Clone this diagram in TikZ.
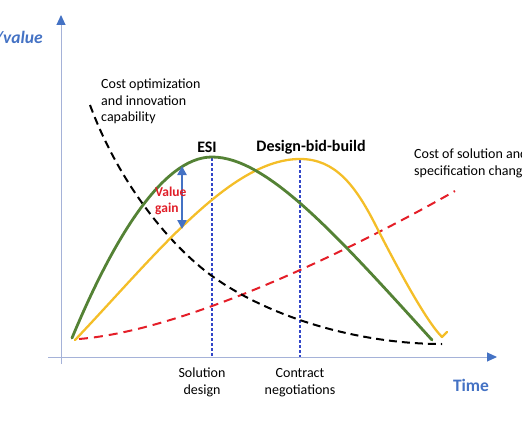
\documentclass[tikz,border=0pt]{standalone}
\usepackage{fontspec}
\setmainfont{Carlito}
\usetikzlibrary{arrows.meta}
\definecolor{grn}{RGB}{84,130,53}
\definecolor{ylw}{RGB}{244,190,40}
\definecolor{rdd}{RGB}{228,30,40}
\definecolor{vblue}{RGB}{50,70,200}
\definecolor{axcol}{RGB}{165,178,216}
\definecolor{tipblue}{RGB}{68,114,196}
\definecolor{gainred}{RGB}{224,30,40}
\tikzset{
  axisline/.style={draw=axcol, line width=1pt},
  grncurve/.style={draw=grn, line width=2.8pt, line join=round, line cap=round},
  ylwcurve/.style={draw=ylw, line width=2.3pt, line join=round, line cap=round},
  blkdash/.style={draw=black, line width=2pt, dash pattern=on 8pt off 5pt},
  reddash/.style={draw=rdd, line width=2pt, dash pattern=on 9pt off 6pt},
  vdash/.style={draw=vblue, line width=1.1pt, dash pattern=on 3pt off 2pt},
  gainarrow/.style={draw=tipblue, line width=2.6pt, {Triangle[length=9pt,width=9pt]}-{Triangle[length=9pt,width=9pt]}},
  smalltext/.style={font=\fontsize{14}{16.5}\selectfont, inner sep=0pt},
  boldtext/.style={font=\fontsize{16}{19}\selectfont\bfseries, inner sep=0pt},
  axtitle/.style={font=\fontsize{17.5}{20}\selectfont\bfseries, text=tipblue, inner sep=0pt},
  gaintext/.style={font=\fontsize{13.5}{16}\selectfont\bfseries, text=gainred, inner sep=0pt, align=left}
}
\begin{document}
\begin{tikzpicture}[x=1pt,y=-1pt]
\useasboundingbox (0,0) rectangle (522,436);
% axes
\coordinate (yb) at (61,364);
\coordinate (yt) at (61,15);
\coordinate (xl) at (48,357);
\coordinate (xr) at (497,357);
\draw[axisline, -{Triangle[length=10pt,width=9pt,color=tipblue]}] (yb) -- (yt);
\draw[axisline, -{Triangle[length=10pt,width=9pt,color=tipblue]}] (xl) -- (xr);
% vertical dashed lines
\coordinate (esitop) at (212,158);
\coordinate (esibot) at (212,357);
\coordinate (dbbtop) at (300,160);
\coordinate (dbbbot) at (300,357);
\draw[vdash] (esitop) -- (esibot);
\draw[vdash] (dbbtop) -- (dbbbot);
% red dashed
\draw[reddash] (79,339) .. controls (190,330) and (360,245) .. (455,191);
% black dashed
\draw[blkdash] (90,105) .. controls (120,186) and (172,247) .. (212,276)
  .. controls (272,319.2) and (362,344) .. (442,344);
% yellow curve
\draw[ylwcurve] (75,340) .. controls (155,256) and (230,159) .. (300,159)
  .. controls (335,159) and (355,185) .. (375,224)
  .. controls (395,263) and (425,320) .. (442,337) -- (447,332);
% green curve
\draw[grncurve] (72,338) .. controls (112,242) and (162,157) .. (212,157)
  .. controls (267,157) and (337,235.5) .. (432,340);
% value gain arrow
\coordinate (gtop) at (182,166);
\coordinate (gbot) at (182,229);
\draw[gainarrow] (gbot) -- (gtop);
\node[gaintext, anchor=west] (gain) at (155,201) {Value\\gain};
% labels
\node[boldtext] (esi) at (207,147) {ESI};
\node[boldtext] (dbb) at (311,147) {Design-bid-build};
\node[smalltext, anchor=west, align=left] (costopt) at (101,101.5) {Cost optimization\\and innovation\\capability};
\node[smalltext, anchor=west, align=left] (costsol) at (414,163.5) {Cost of solution and\\specification changes};
\node[smalltext, align=center] (soldes) at (202,382.5) {Solution\\design};
\node[smalltext, align=center] (contr) at (300,382.5) {Contract\\negotiations};
\node[axtitle] (time) at (471,385) {Time};
\node[axtitle, anchor=east, font=\fontsize{17.5}{20}\selectfont\bfseries\itshape] (val) at (43,38) {/value};
\end{tikzpicture}
\end{document}
